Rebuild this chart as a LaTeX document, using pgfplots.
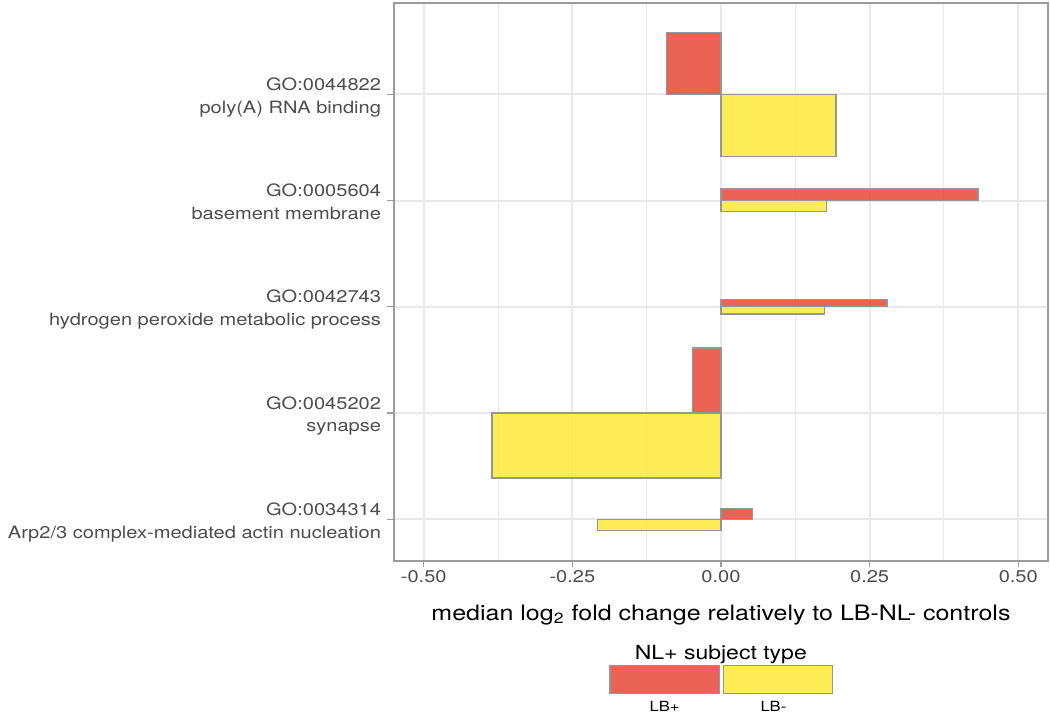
\documentclass[border=0pt]{standalone}
\usepackage{fontspec}
\setmainfont{TeX Gyre Heros}
\usepackage{graphicx}
\usepackage{pgfplots}
\pgfplotsset{compat=1.18}
\definecolor{lbp}{RGB}{233,82,67}
\definecolor{lbm}{RGB}{254,234,68}
\definecolor{barline}{RGB}{150,150,150}
\definecolor{border}{RGB}{155,155,155}
\definecolor{gridc}{RGB}{232,232,232}
\definecolor{txt}{RGB}{77,77,77}
\newcommand{\sx}[1]{\scalebox{1.18}[1]{#1}}
\newcommand{\gol}[2]{\sx{\fontsize{8.5}{11.3}\selectfont\begin{tabular}{@{}r@{}}#1\\#2\end{tabular}}}
\begin{document}
\begin{tikzpicture}
\path[use as bounding box] (-197pt,-76.15pt) rectangle (328pt,280.35pt);
\begin{axis}[
  scale only axis, width=327pt, height=279pt,
  at={(0,0)}, anchor=south west,
  xmin=-0.55, xmax=0.55, ymin=0.61, ymax=5.862,
  xtick={-0.5,-0.25,0,0.25,0.5},
  xticklabels={\sx{-0.50},\sx{-0.25},\sx{0.00},\sx{0.25},\sx{0.50}},
  minor xtick={-0.375,-0.125,0.125,0.375},
  ytick={1,2,3,4,5},
  yticklabels={
    {\gol{GO:0034314}{Arp2/3 complex-mediated actin nucleation}},
    {\gol{GO:0045202}{synapse}},
    {\gol{GO:0042743}{hydrogen peroxide metabolic process}},
    {\gol{GO:0005604}{basement membrane}},
    {\gol{GO:0044822}{poly(A) RNA binding}}},
  xtick pos=left, ytick pos=left,
  tick align=outside,
  major tick length=3.3pt, minor tick length=0pt,
  every tick/.style={draw=border, line width=0.6pt},
  axis line style={draw=border, line width=1pt},
  grid=both,
  major grid style={draw=gridc, line width=1pt},
  minor grid style={draw=gridc, line width=0.5pt},
  xticklabel style={font=\fontsize{8.5}{10}\selectfont, text=txt, anchor=base, inner sep=0pt, yshift=-7.8pt},
  yticklabel style={text=txt, anchor=east, inner sep=0pt, xshift=-3pt, yshift=-1.5pt},
  xlabel={\sx{\fontsize{10.6}{12}\selectfont median log\textsubscript{2} fold change relatively to LB-NL- controls}},
  xlabel style={at={(axis description cs:0.5,0)}, anchor=base, inner sep=0pt, yshift=-30pt},
  every axis plot/.append style={draw=barline, line width=0.7pt, fill opacity=0.9},
]
% GO:0044822 (y=5)
\addplot[fill=lbp] coordinates {(0,5) (-0.092,5) (-0.092,5.584) (0,5.584)} -- cycle;
\addplot[fill=lbm] coordinates {(0,5) (0.1935,5) (0.1935,4.417) (0,4.417)} -- cycle;
% GO:0005604 (y=4)
\addplot[fill=lbp] coordinates {(0,4) (0.432,4) (0.432,4.107) (0,4.107)} -- cycle;
\addplot[fill=lbm] coordinates {(0,4) (0.177,4) (0.177,3.897) (0,3.897)} -- cycle;
% GO:0042743 (y=3)
\addplot[fill=lbp] coordinates {(0,3) (0.279,3) (0.279,3.068) (0,3.068)} -- cycle;
\addplot[fill=lbm] coordinates {(0,3) (0.174,3) (0.174,2.932) (0,2.932)} -- cycle;
% GO:0045202 (y=2)
\addplot[fill=lbp] coordinates {(0,2) (-0.048,2) (-0.048,2.613) (0,2.613)} -- cycle;
\addplot[fill=lbm] coordinates {(0,2) (-0.385,2) (-0.385,1.387) (0,1.387)} -- cycle;
% GO:0034314 (y=1)
\addplot[fill=lbp] coordinates {(0,1) (0.0525,1) (0.0525,1.104) (0,1.104)} -- cycle;
\addplot[fill=lbm] coordinates {(0,1) (-0.208,1) (-0.208,0.896) (0,0.896)} -- cycle;
\end{axis}
% legend
\node[anchor=base, inner sep=0pt] at (163.4pt,-49.2pt) {\sx{\fontsize{9.75}{12}\selectfont NL+ subject type}};
\filldraw[fill=lbp, draw=barline, line width=0.7pt, fill opacity=0.9] (108pt,-52.5pt) rectangle (162.65pt,-66.3pt);
\filldraw[fill=lbm, draw=barline, line width=0.7pt, fill opacity=0.9] (164.65pt,-52.5pt) rectangle (219.15pt,-66.3pt);
\node[anchor=base, inner sep=0pt] at (135.3pt,-75.6pt) {\sx{\fontsize{7}{8}\selectfont LB+}};
\node[anchor=base, inner sep=0pt] at (189.7pt,-75.6pt) {\sx{\fontsize{7}{8}\selectfont LB-}};
\end{tikzpicture}
\end{document}
